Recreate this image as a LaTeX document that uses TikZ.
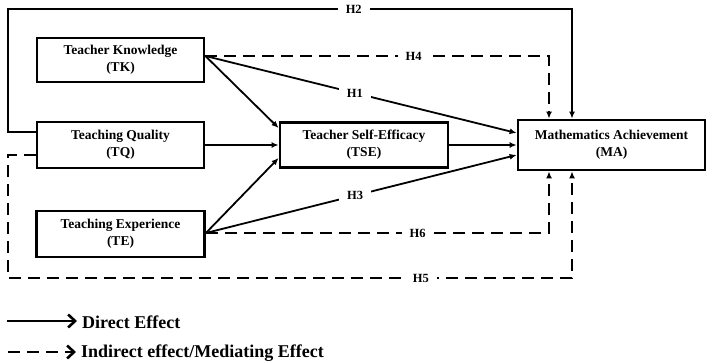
\documentclass[tikz,border=0pt]{standalone}
\usepackage{fontspec}
\setmainfont{Liberation Serif}
\usetikzlibrary{arrows.meta}
\tikzset{>={Latex[length=7pt,width=6pt]}}
\tikzset{
  varbox/.style={draw, line width=2.8pt, inner sep=0pt, align=center,
    font=\fontsize{13.5}{17}\selectfont\bfseries},
  direct/.style={->, line width=1.8pt},
  indirect/.style={->, line width=2.4pt, dash pattern=on 12pt off 7pt},
  hlab/.style={fill=white, inner ysep=2pt, inner xsep=8pt, font=\fontsize{12.5}{14}\selectfont\bfseries},
  legtext/.style={anchor=west, inner sep=0pt, font=\fontsize{18}{20}\selectfont\bfseries}
}

\begin{document}
\begin{tikzpicture}[x=1pt,y=-1pt]
            \useasboundingbox (0,0) rectangle (707,364);
            % variables
            \node[varbox, minimum width=167pt, minimum height=44pt] (TK) at (120.5,60) {Teacher Knowledge\\(TK)};
            \node[varbox, minimum width=167pt, minimum height=46pt] (TQ) at (120.5,145) {Teaching Quality\\(TQ)};
            \node[varbox, minimum width=168pt, minimum height=46pt] (TE) at (120.5,234) {Teaching Experience\\(TE)};
            \node[varbox, minimum width=168pt, minimum height=45pt] (TSE) at (364,145) {Teacher Self-Efficacy\\(TSE)};
            \node[varbox, minimum width=187pt, minimum height=50pt] (MA) at (611.5,145) {Mathematics Achievement\\(MA)};
            \coordinate (tkout) at ([yshift=4pt]TK.east);
            \coordinate (teout) at ([yshift=1pt]TE.east);
            % direct paths
            \draw[direct] (tkout) -- ([yshift=17pt]TSE.west);
            \draw[direct] (TQ.east) -- (TSE.west);
            \draw[direct] (teout) -- ([yshift=-13pt]TSE.west);
            \draw[direct] (TSE.east) -- (MA.west);
            \draw[direct] (tkout) -- node[hlab, pos=0.48] {H1} ([yshift=12pt]MA.west);
            \draw[direct] (teout) -- node[hlab, pos=0.48] {H3} ([yshift=-10pt]MA.west);
            \draw[direct] ([yshift=13pt]TQ.west) -| (8,9) -- node[hlab, pos=0.613] {H2} (572,9) -- ([xshift=-39.5pt]MA.north);
            % mediating paths
            \draw[indirect] (tkout) -- node[hlab, pos=0.606] {H4} (549,56) -- ([xshift=-62.5pt]MA.north);
            \draw[indirect] (teout) -- node[hlab, pos=0.617] {H6} (549,233) -- ([xshift=-62.5pt]MA.south);
            \draw[indirect] ([yshift=-10pt]TQ.west) -| (8,278) -- node[hlab, pos=0.732] {H5} (572,278) -- ([xshift=-39.5pt]MA.south);
            % legend
            \coordinate (lgdir) at (7,321);
            \coordinate (lgind) at (8,352);
            \node[legtext] (lgdirtext) at (82,322) {Direct Effect};
            \node[legtext] (lgindtext) at (81,353) {Indirect effect/Mediating Effect};
            \draw[line width=2.4pt, -{Straight Barb[length=7pt,width=13pt,line width=2.6pt]}] (lgdir) -- ([xshift=-5pt]lgdirtext.west |- lgdir);
            \draw[line width=2.4pt, dash pattern=on 12pt off 7pt, -{Straight Barb[length=7pt,width=13pt,line width=2.6pt]}] (lgind) -- ([xshift=-5pt]lgindtext.west |- lgind);
        \end{tikzpicture}
\end{document}
